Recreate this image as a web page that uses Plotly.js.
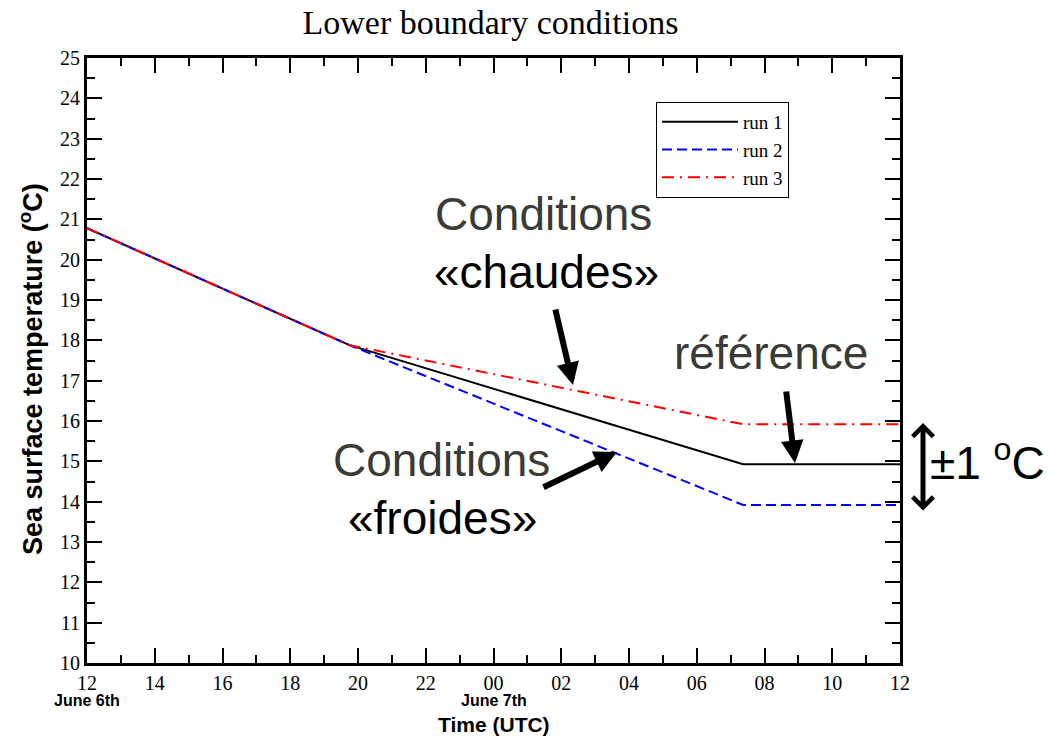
<!DOCTYPE html>
<html>
<head>
<meta charset="utf-8">
<script src="https://cdn.plot.ly/plotly-3.0.1.min.js"></script>
<style>html,body{margin:0;padding:0;background:#fff;}#chart{width:1048px;height:736px;}</style>
</head>
<body>
<div id="chart"></div>
<script>
// Time (UTC), June 6th 12:00 -> June 7th 12:00
const times = ['2006-06-06 12:00', '2006-06-06 19:45', '2006-06-07 07:22', '2006-06-07 12:00'];
// Sea surface temperature (°C)
const run1 = [20.78, 17.88, 14.93, 14.93];
const run2 = [20.78, 17.88, 13.92, 13.92];
const run3 = [20.78, 17.88, 15.92, 15.92];
const seriesNames = ['run 1', 'run 2', 'run 3'];

const serif = 'Liberation Serif, Times New Roman, serif';
const sans = 'Liberation Sans, Arial, sans-serif';

const traces = [
  {x: times, y: run1, name: seriesNames[0], type: 'scatter', mode: 'lines',
   line: {color: '#000000', width: 2}},
  {x: times, y: run2, name: seriesNames[1], type: 'scatter', mode: 'lines',
   line: {color: '#0000ff', width: 2, dash: '10px,5px'}},
  {x: times, y: run3, name: seriesNames[2], type: 'scatter', mode: 'lines',
   line: {color: '#ff0000', width: 2, dash: '12px,6px,2px,6px'}}
];

function px(x) { return (x - 87) / 813; }
function py(y) { return (663 - y) / 605; }

const gray = '#3a3a37';
const annotations = [
  {text: 'Conditions', x: px(543), y: py(214), font: {family: sans, size: 46, color: gray}},
  {text: '«chaudes»', x: px(546), y: py(272), font: {family: sans, size: 46, color: '#000'}},
  {text: 'référence', x: px(771), y: py(353), font: {family: sans, size: 46, color: gray}},
  {text: 'Conditions', x: px(441), y: py(460), font: {family: sans, size: 46, color: gray}},
  {text: '«froides»', x: px(442), y: py(518), font: {family: sans, size: 46, color: '#000'}},
  {text: '±1 <sup>o</sup>C', x: px(987), y: py(460), font: {family: sans, size: 46, color: '#000'}},
  {text: 'June 6th', x: px(87), y: py(700), font: {family: sans, size: 16, color: '#000', weight: 'bold'}, borderpad: 0},
  {text: 'June 7th', x: px(494), y: py(700), font: {family: sans, size: 16, color: '#000', weight: 'bold'}, borderpad: 0},
  {text: 'Time (UTC)', x: px(494), y: py(724), font: {family: sans, size: 21, color: '#000', weight: 'bold'}, borderpad: 0},
  {text: 'Sea surface temperature (<sup>o</sup>C)', x: px(31), y: py(369), textangle: -90,
   font: {family: sans, size: 27, color: '#000', weight: 'bold'}},
  // arrows
  {text: '', x: px(573), y: py(385), ax: -18, ay: -77, showarrow: true, arrowhead: 2, arrowsize: 0.75, arrowwidth: 6, arrowcolor: '#000'},
  {text: '', x: px(795), y: py(463), ax: -9, ay: -73, showarrow: true, arrowhead: 2, arrowsize: 0.75, arrowwidth: 6, arrowcolor: '#000'},
  {text: '', x: px(617), y: py(452), ax: -75, ay: 36, showarrow: true, arrowhead: 2, arrowsize: 0.75, arrowwidth: 6, arrowcolor: '#000'},
  {text: '', x: px(923), y: py(423), ax: 0, ay: 89, showarrow: true, arrowside: 'end+start',
   arrowhead: 4, startarrowhead: 4, arrowsize: 0.8, startarrowsize: 0.8, arrowwidth: 5, arrowcolor: '#000'}
].map(a => Object.assign({xref: 'paper', yref: 'paper', showarrow: false, xanchor: 'center', yanchor: 'middle'}, a));

const layout = {
  width: 1048, height: 736,
  margin: {l: 87, r: 148, t: 58, b: 73},
  paper_bgcolor: '#fff', plot_bgcolor: '#fff',
  title: {text: 'Lower boundary conditions', font: {family: serif, size: 34, color: '#000'},
          x: 0.468, xanchor: 'center', y: 0.97, yanchor: 'middle'},
  showlegend: true,
  legend: {x: px(656), y: py(102), xanchor: 'left', yanchor: 'top',
           bordercolor: '#000', borderwidth: 1, bgcolor: '#fff',
           font: {family: serif, size: 19, color: '#000'}, itemwidth: 76, tracegroupgap: 0},
  xaxis: {
    type: 'date', range: ['2006-06-06 12:00', '2006-06-07 12:00'],
    tickmode: 'linear', tick0: '2006-06-06 12:00', dtick: 7200000, tickformat: '%H',
    ticks: 'inside', ticklen: 15, tickwidth: 2, tickcolor: '#000',
    minor: {dtick: 3600000, tick0: '2006-06-06 12:00', ticks: 'inside', ticklen: 8, tickwidth: 2, tickcolor: '#000', showgrid: false},
    showline: true, linewidth: 3, linecolor: '#000', mirror: 'ticks',
    showgrid: false, zeroline: false,
    tickfont: {family: serif, size: 20, color: '#000'}
  },
  yaxis: {
    range: [10, 25], tickmode: 'linear', tick0: 10, dtick: 1,
    ticks: 'inside', ticklen: 15, tickwidth: 2, tickcolor: '#000',
    minor: {dtick: 0.5, ticks: 'inside', ticklen: 8, tickwidth: 2, tickcolor: '#000', showgrid: false},
    showline: true, linewidth: 3, linecolor: '#000', mirror: 'ticks',
    showgrid: false, zeroline: false,
    tickfont: {family: serif, size: 20, color: '#000'}
  },
  annotations: annotations
};

Plotly.newPlot('chart', traces, layout, {displayModeBar: false, staticPlot: true});
</script>
</body>
</html>
